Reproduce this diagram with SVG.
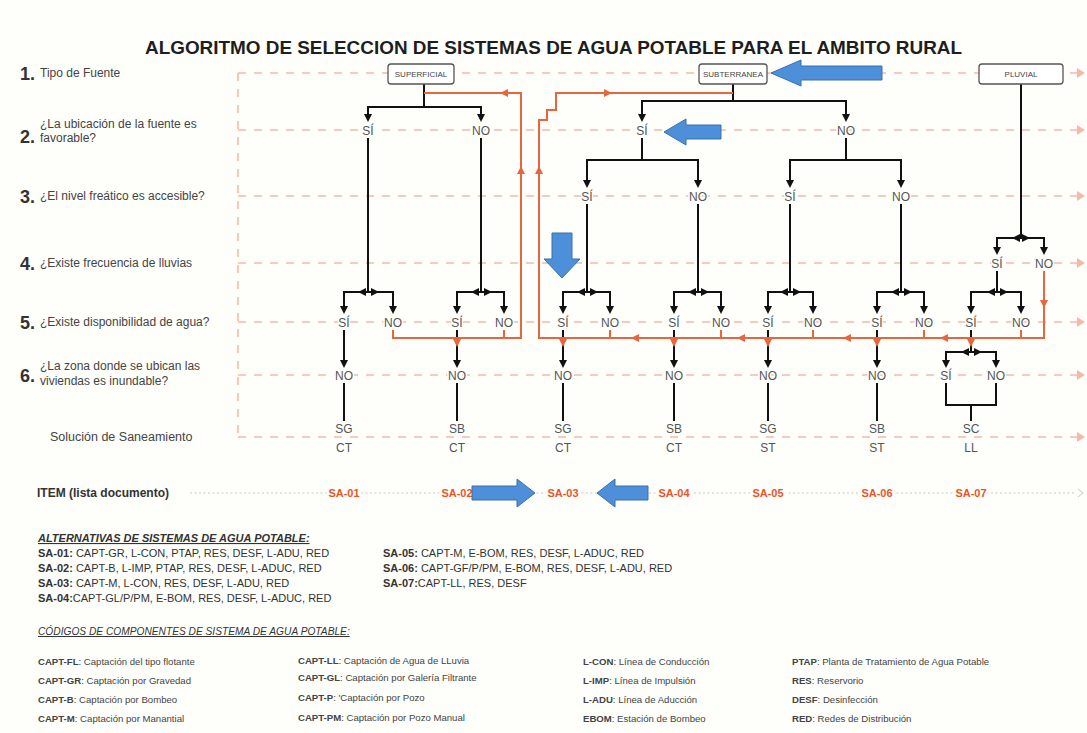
<svg xmlns="http://www.w3.org/2000/svg" width="1087" height="733" viewBox="0 0 1087 733">
<defs>
<style>
text{font-family:'Liberation Sans',Arial,sans-serif}
.ttl{font-size:19px;font-weight:bold;fill:#1e1e1e}
.num{font-size:18px;font-weight:bold;fill:#333}
.q{font-size:12px;fill:#444}
.n{font-size:12px;fill:#555;text-anchor:middle;stroke:#fefefb;stroke-width:3;paint-order:stroke}
.bx{fill:#fff;stroke:#555;stroke-width:1.3}
.bt{font-size:8px;fill:#444;text-anchor:middle}
.grid{stroke:#f6b9a9;stroke-width:1.6;stroke-dasharray:8 8;fill:none}
.gh{fill:#f6b9a9}
.k{stroke:#111;stroke-width:2;fill:none}
.kf{fill:#111}
.o{stroke:#e8663d;stroke-width:2;fill:none}
.of{fill:#e8663d}
.blue{fill:#4d8fd8;stroke:#3b6fae;stroke-width:1}
.sa{font-size:11px;font-weight:bold;fill:#e8552b;text-anchor:middle;stroke:#fefefb;stroke-width:5;paint-order:stroke}
.hd{font-size:11px;font-style:italic;font-weight:bold;text-decoration:underline;fill:#333}
.ln{font-size:11px;fill:#333}
.cd{font-size:9.6px;fill:#444}
.b{font-weight:bold}
</style>
<path id="aD" d="M0,0 l-4,-8 h8 z"/>
<path id="aU" d="M0,0 l-4,8 h8 z"/>
<path id="aL" d="M0,0 l8,-4 v8 z"/>
<path id="aR" d="M0,0 l-8,-4 v8 z"/>
<path id="gc" d="M0,0 l-8,-5 v10 z"/>
</defs>
<rect width="1087" height="733" fill="#fefefb"/>
<text class="ttl" x="145" y="54" textLength="817" lengthAdjust="spacingAndGlyphs">ALGORITMO DE SELECCION DE SISTEMAS DE AGUA POTABLE PARA EL AMBITO RURAL</text>

<g id="grid">
<path class="grid" d="M238,73 H1078 M238,130 H1078 M238,196 H1078 M238,263 H1078 M238,322 H1078 M238,375 H1078 M238,437 H1078 M238,73 V437"/>
<use href="#gc" class="gh" x="1085" y="73"/><use href="#gc" class="gh" x="1085" y="130"/><use href="#gc" class="gh" x="1085" y="196"/><use href="#gc" class="gh" x="1085" y="263"/><use href="#gc" class="gh" x="1085" y="322"/><use href="#gc" class="gh" x="1085" y="375"/><use href="#gc" class="gh" x="1085" y="437"/>
<path d="M190,493 H1076" stroke="#c8c8c8" stroke-width="1.2" stroke-dasharray="2 2.5"/>
<path d="M1078,489 l5,4 l-5,4" stroke="#c8c8c8" fill="none"/>
</g>

<g id="row-labels">
<text class="num" x="20" y="80">1.</text><text class="q" x="40" y="77">Tipo de Fuente</text>
<text class="num" x="20" y="143">2.</text><text class="q" x="40" y="128">¿La ubicación de la fuente es</text><text class="q" x="40" y="142">favorable?</text>
<text class="num" x="20" y="203">3.</text><text class="q" x="40" y="200">¿El nivel freático es accesible?</text>
<text class="num" x="20" y="270">4.</text><text class="q" x="40" y="267">¿Existe frecuencia de lluvias</text>
<text class="num" x="20" y="329">5.</text><text class="q" x="40" y="326">¿Existe disponibilidad de agua?</text>
<text class="num" x="20" y="382">6.</text><text class="q" x="40" y="370">¿La zona donde se ubican las</text><text class="q" x="40" y="385">viviendas es inundable?</text>
<text class="q" x="50" y="441" style="font-size:12.5px">Solución de Saneamiento</text>
<text class="q" x="37" y="497" style="font-size:12px;font-weight:bold;fill:#333">ITEM (lista documento)</text>
</g>

<g id="connectors">
<g class="k">
<path d="M424,84 V107 M368,114 V107 H481 V114"/>
<path d="M733,84 V101 M642,114 V101 H846 V114"/>
<path d="M642,138 V160 M587,180 V160 H698 V180"/>
<path d="M846,138 V160 M790,180 V160 H901 V180"/>
<path d="M1021,84 V238 M997,247 V238 H1044 V247"/>
<path d="M368,138 V292 M344,306 V292 H393 V306"/>
<path d="M481,138 V292 M457,306 V292 H504 V306"/>
<path d="M587,204 V292 M563,306 V292 H610 V306"/>
<path d="M698,204 V292 M674,306 V292 H721 V306"/>
<path d="M790,204 V292 M768,306 V292 H813 V306"/>
<path d="M901,204 V292 M877,306 V292 H924 V306"/>
<path d="M997,271 V292 M971,306 V292 H1021 V306"/>
<path d="M344,330 V360 M457,330 V360 M563,330 V360 M674,330 V360 M768,330 V360 M877,330 V360"/>
<path d="M344,383 V421 M457,383 V421 M563,383 V421 M674,383 V421 M768,383 V421 M877,383 V421"/>
<path d="M971,330 V352 M946,361 V352 H996 V361"/>
<path d="M946,383 V405 H996 V383 M971,405 V421"/>
</g>
<g class="kf">
<use href="#aD" x="368" y="122"/><use href="#aD" x="481" y="122"/>
<use href="#aD" x="642" y="122"/><use href="#aD" x="846" y="122"/>
<use href="#aD" x="587" y="188"/><use href="#aD" x="698" y="188"/><use href="#aD" x="790" y="188"/><use href="#aD" x="901" y="188"/>
<use href="#aD" x="997" y="255"/><use href="#aD" x="1044" y="255"/>
<use href="#aL" x="1012" y="238"/><use href="#aR" x="1030" y="238"/>
<use href="#aD" x="344" y="314"/><use href="#aD" x="393" y="314"/><use href="#aL" x="358" y="292"/><use href="#aR" x="379" y="292"/>
<use href="#aD" x="457" y="314"/><use href="#aD" x="504" y="314"/><use href="#aL" x="471" y="292"/><use href="#aR" x="492" y="292"/>
<use href="#aD" x="563" y="314"/><use href="#aD" x="610" y="314"/><use href="#aL" x="577" y="292"/><use href="#aR" x="598" y="292"/>
<use href="#aD" x="674" y="314"/><use href="#aD" x="721" y="314"/><use href="#aL" x="688" y="292"/><use href="#aR" x="709" y="292"/>
<use href="#aD" x="768" y="314"/><use href="#aD" x="813" y="314"/><use href="#aL" x="780" y="292"/><use href="#aR" x="801" y="292"/>
<use href="#aD" x="877" y="314"/><use href="#aD" x="924" y="314"/><use href="#aL" x="891" y="292"/><use href="#aR" x="912" y="292"/>
<use href="#aD" x="971" y="314"/><use href="#aD" x="1021" y="314"/><use href="#aL" x="987" y="292"/><use href="#aR" x="1008" y="292"/>
<use href="#aD" x="344" y="368"/><use href="#aD" x="457" y="368"/><use href="#aD" x="563" y="368"/><use href="#aD" x="674" y="368"/><use href="#aD" x="768" y="368"/><use href="#aD" x="877" y="368"/>
<use href="#aD" x="946" y="368"/><use href="#aD" x="996" y="368"/><use href="#aL" x="961" y="352"/><use href="#aR" x="982" y="352"/>
</g>
<g class="o">
<path d="M393,330 V338 H521 V93 H424 M504,330 V338"/>
<path d="M1044,271 V338 H539 V120 H547 V110 H556 V93 H733 M1021,330 V338 M924,330 V338 M813,330 V338 M721,330 V338 M610,330 V338"/>
</g>
<g class="of">
<use href="#aD" x="457" y="347"/><use href="#aU" x="521" y="166"/><use href="#aL" x="500" y="93"/>
<use href="#aD" x="1044" y="308"/><use href="#aU" x="539" y="166"/><use href="#aR" x="612" y="93"/>
<use href="#aL" x="940" y="338"/><use href="#aL" x="843" y="338"/><use href="#aL" x="737" y="338"/><use href="#aL" x="631" y="338"/>
<use href="#aD" x="971" y="347"/><use href="#aD" x="877" y="347"/><use href="#aD" x="768" y="347"/><use href="#aD" x="674" y="347"/><use href="#aD" x="563" y="347"/>
</g>
</g>

<g id="node-superficial"><rect class="bx" x="388" y="64" width="66" height="20" rx="3"/><text class="bt" x="421" y="77">SUPERFICIAL</text></g>
<g id="node-subterranea"><rect class="bx" x="699" y="64" width="68" height="20" rx="3"/><text class="bt" x="733" y="77">SUBTERRANEA</text></g>
<g id="node-pluvial"><rect class="bx" x="979" y="64" width="84" height="20" rx="3"/><text class="bt" x="1021" y="77">PLUVIAL</text></g>

<g id="nodes-row2"><text class="n" x="368" y="135">SÍ</text><text class="n" x="481" y="135">NO</text><text class="n" x="642" y="135">SÍ</text><text class="n" x="846" y="135">NO</text></g>
<g id="nodes-row3"><text class="n" x="587" y="201">SÍ</text><text class="n" x="698" y="201">NO</text><text class="n" x="790" y="201">SÍ</text><text class="n" x="901" y="201">NO</text></g>
<g id="nodes-row4"><text class="n" x="997" y="268">SÍ</text><text class="n" x="1044" y="268">NO</text></g>
<g id="nodes-row5">
<text class="n" x="344" y="327">SÍ</text><text class="n" x="393" y="327">NO</text>
<text class="n" x="457" y="327">SÍ</text><text class="n" x="504" y="327">NO</text>
<text class="n" x="563" y="327">SÍ</text><text class="n" x="610" y="327">NO</text>
<text class="n" x="674" y="327">SÍ</text><text class="n" x="721" y="327">NO</text>
<text class="n" x="768" y="327">SÍ</text><text class="n" x="813" y="327">NO</text>
<text class="n" x="877" y="327">SÍ</text><text class="n" x="924" y="327">NO</text>
<text class="n" x="971" y="327">SÍ</text><text class="n" x="1021" y="327">NO</text>
</g>
<g id="nodes-row6">
<text class="n" x="344" y="380">NO</text><text class="n" x="457" y="380">NO</text><text class="n" x="563" y="380">NO</text><text class="n" x="674" y="380">NO</text><text class="n" x="768" y="380">NO</text><text class="n" x="877" y="380">NO</text>
<text class="n" x="946" y="380">SÍ</text><text class="n" x="996" y="380">NO</text>
</g>
<g id="nodes-solucion">
<text class="n" x="344" y="433">SG</text><text class="n" x="344" y="452">CT</text>
<text class="n" x="457" y="433">SB</text><text class="n" x="457" y="452">CT</text>
<text class="n" x="563" y="433">SG</text><text class="n" x="563" y="452">CT</text>
<text class="n" x="674" y="433">SB</text><text class="n" x="674" y="452">CT</text>
<text class="n" x="768" y="433">SG</text><text class="n" x="768" y="452">ST</text>
<text class="n" x="877" y="433">SB</text><text class="n" x="877" y="452">ST</text>
<text class="n" x="971" y="433">SC</text><text class="n" x="971" y="452">LL</text>
</g>
<g id="items">
<text class="sa" x="344" y="497">SA-01</text><text class="sa" x="457" y="497">SA-02</text><text class="sa" x="563" y="497">SA-03</text><text class="sa" x="674" y="497">SA-04</text><text class="sa" x="768" y="497">SA-05</text><text class="sa" x="877" y="497">SA-06</text><text class="sa" x="971" y="497">SA-07</text>
</g>

<g id="blue-arrows">
<polygon class="blue" points="771,73 801,60 801,66 882,66 882,80 801,80 801,86"/>
<polygon class="blue" points="664,132 686,119 686,125 721,125 721,139 686,139 686,145"/>
<polygon class="blue" points="562,278 544,259 552,259 552,233 572,233 572,259 580,259"/>
<polygon class="blue" points="535,493 517,479 517,486 472,486 472,500 517,500 517,507"/>
<polygon class="blue" points="597,493 615,479 615,486 648,486 648,500 615,500 615,507"/>
</g>

<g id="alternativas">
<text class="hd" x="38" y="542">ALTERNATIVAS DE SISTEMAS DE AGUA POTABLE:</text>
<text class="ln" x="38" y="557"><tspan class="b">SA-01:</tspan> CAPT-GR, L-CON, PTAP, RES, DESF, L-ADU, RED</text>
<text class="ln" x="38" y="572"><tspan class="b">SA-02:</tspan> CAPT-B, L-IMP, PTAP, RES, DESF, L-ADUC, RED</text>
<text class="ln" x="38" y="587"><tspan class="b">SA-03:</tspan> CAPT-M, L-CON, RES, DESF, L-ADU, RED</text>
<text class="ln" x="38" y="602"><tspan class="b">SA-04:</tspan>CAPT-GL/P/PM, E-BOM, RES, DESF, L-ADUC, RED</text>
<text class="ln" x="383" y="557"><tspan class="b">SA-05:</tspan> CAPT-M, E-BOM, RES, DESF, L-ADUC, RED</text>
<text class="ln" x="383" y="572"><tspan class="b">SA-06:</tspan> CAPT-GF/P/PM, E-BOM, RES, DESF, L-ADU, RED</text>
<text class="ln" x="383" y="587"><tspan class="b">SA-07:</tspan>CAPT-LL, RES, DESF</text>
</g>

<g id="codigos">
<text class="hd" x="38" y="635" style="font-size:10.2px;font-weight:normal">CÓDIGOS DE COMPONENTES DE SISTEMA DE AGUA POTABLE:</text>
<text class="cd" x="38" y="665"><tspan class="b">CAPT-FL</tspan>: Captación del tipo flotante</text>
<text class="cd" x="38" y="684"><tspan class="b">CAPT-GR</tspan>: Captación por Gravedad</text>
<text class="cd" x="38" y="703"><tspan class="b">CAPT-B</tspan>: Captación por Bombeo</text>
<text class="cd" x="38" y="722"><tspan class="b">CAPT-M</tspan>: Captación por Manantial</text>
<text class="cd" x="298" y="664"><tspan class="b">CAPT-LL</tspan>: Captación de Agua de LLuvia</text>
<text class="cd" x="298" y="681"><tspan class="b">CAPT-GL</tspan>: Captación por Galería Filtrante</text>
<text class="cd" x="298" y="701"><tspan class="b">CAPT-P</tspan>: 'Captación por Pozo</text>
<text class="cd" x="298" y="721"><tspan class="b">CAPT-PM</tspan>: Captación por Pozo Manual</text>
<text class="cd" x="583" y="665"><tspan class="b">L-CON</tspan>: Línea de Conducción</text>
<text class="cd" x="583" y="684"><tspan class="b">L-IMP</tspan>: Línea de Impulsión</text>
<text class="cd" x="583" y="703"><tspan class="b">L-ADU</tspan>: Línea de Aducción</text>
<text class="cd" x="583" y="722"><tspan class="b">EBOM</tspan>: Estación de Bombeo</text>
<text class="cd" x="792" y="665"><tspan class="b">PTAP</tspan>: Planta de Tratamiento de Agua Potable</text>
<text class="cd" x="792" y="684"><tspan class="b">RES</tspan>: Reservorio</text>
<text class="cd" x="792" y="703"><tspan class="b">DESF</tspan>: Desinfección</text>
<text class="cd" x="792" y="722"><tspan class="b">RED</tspan>: Redes de Distribución</text>
</g>
</svg>
